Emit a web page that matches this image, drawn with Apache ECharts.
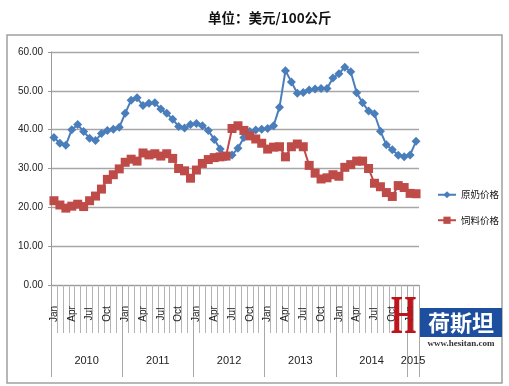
<!DOCTYPE html>
<html>
<head>
<meta charset="utf-8">
<script src="https://cdn.jsdelivr.net/npm/echarts@6/dist/echarts.min.js"></script>
<style>
html,body{margin:0;padding:0;background:#fff;}
#chart{width:509px;height:386px;}
</style>
</head>
<body>
<div id="chart"></div>
<script>
// ---- data ----
const monthNames = ['Jan','Feb','Mar','Apr','May','Jun','Jul','Aug','Sep','Oct','Nov','Dec'];
const years = ['2010','2011','2012','2013','2014','2015'];
const monthCount = 62; // Jan 2010 .. Feb 2015
const seriesNames = ['原奶价格','饲料价格'];
const milkPrice = [
  38.0, 36.5, 36.0, 40.0, 41.3, 39.5, 37.8, 37.2, 39.0, 39.8, 40.1, 40.6,
  44.2, 47.6, 48.2, 46.2, 46.8, 46.9, 45.3, 44.2, 42.7, 40.8, 40.4, 41.3,
  41.6, 41.0, 39.8, 37.5, 35.0, 33.0, 33.5, 35.2, 38.0, 39.5, 39.9, 40.1,
  40.3, 41.0, 45.8, 55.2, 52.3, 49.4, 49.6, 50.2, 50.5, 50.6, 50.6, 53.3,
  54.4, 56.1, 54.9, 49.5, 46.9, 44.8, 44.1, 39.6, 36.1, 34.8, 33.4, 33.0,
  33.5, 37.0
];
const feedPrice = [
  21.7, 20.6, 19.8, 20.3, 20.8, 20.2, 21.7, 22.9, 24.7, 27.2, 28.4, 29.9,
  31.6, 32.4, 31.9, 34.0, 33.5, 33.8, 33.2, 33.8, 32.6, 30.0, 29.4, 27.5,
  29.6, 31.3, 32.3, 32.8, 33.0, 33.2, 40.3, 41.0, 39.8, 38.4, 37.6, 36.5,
  35.0, 35.5, 35.6, 33.0, 35.6, 36.3, 35.6, 30.8, 28.8, 27.3, 27.6, 28.4,
  28.0, 30.3, 31.0, 31.9, 31.9, 30.0, 26.2, 25.3, 23.8, 22.8, 25.6, 25.1,
  23.6, 23.5
];
const yTicks = [0, 10, 20, 30, 40, 50, 60];

// ---- derived axis categories ----
const monthCats = [];
for (let i = 0; i < monthCount; i++) monthCats.push(monthNames[i % 12]);
// half-month grid for year grouping axis (boundaryGap false, 0..62 months)
const halfCats = [];
const yearLabelIdx = {};
years.forEach((y, k) => {
  const start = k * 12, end = Math.min(start + 12, monthCount);
  yearLabelIdx[(start + end)] = y;
});
for (let j = 0; j <= monthCount * 2; j++) halfCats.push(yearLabelIdx[j] || '');

const chart = echarts.init(document.getElementById('chart'));
const gridLeft = 51, gridRight = 90, gridTop = 52, gridBottom = 101;

chart.setOption({
  animation: false,
  backgroundColor: '#fff',
  title: {
    text: '单位：美元/100公斤',
    left: 203, top: 6,
    textStyle: {fontFamily: 'Noto Sans CJK SC', fontWeight: 'bold', fontSize: 13.5, color: '#111'}
  },
  legend: {
    orient: 'vertical',
    left: 432, top: 185,
    itemWidth: 18, itemHeight: 9, itemGap: 16,
    textStyle: {fontFamily: 'Noto Sans CJK SC', fontSize: 9.5, color: '#111'},
    data: seriesNames
  },
  grid: {left: gridLeft, right: gridRight, top: gridTop, bottom: gridBottom, containLabel: false},
  xAxis: [
    {
      type: 'category',
      data: monthCats,
      boundaryGap: true,
      position: 'bottom',
      axisLine: {show: true, lineStyle: {color: '#9a9a9a', width: 1}},
      axisTick: {show: true, interval: 0, length: 48, lineStyle: {color: '#b4b4b4', width: 1}},
      axisLabel: {
        interval: (i) => i % 3 === 0,
        rotate: 90,
        align: 'center',
        verticalAlign: 'middle',
        margin: 29,
        fontSize: 10,
        color: '#222',
        fontFamily: 'Liberation Sans'
      },
      splitLine: {show: false}
    },
    {
      type: 'category',
      data: halfCats,
      boundaryGap: false,
      position: 'bottom',
      axisLine: {show: false},
      axisTick: {show: true, length: 92, interval: (j) => j % 24 === 0 || j === monthCount * 2,
        lineStyle: {color: '#a8a8a8', width: 1}},
      axisLabel: {
        interval: (j) => halfCats[j] !== '',
        margin: 70,
        fontSize: 11,
        color: '#222',
        fontFamily: 'Liberation Sans'
      },
      splitLine: {show: false}
    }
  ],
  yAxis: {
    type: 'value',
    min: yTicks[0], max: yTicks[yTicks.length - 1], interval: 10,
    axisLine: {show: true, lineStyle: {color: '#9a9a9a'}},
    axisTick: {show: true, length: 3, lineStyle: {color: '#9a9a9a'}},
    axisLabel: {formatter: (v) => v.toFixed(2), fontSize: 10, color: '#222', margin: 8, fontFamily: 'Liberation Sans'},
    splitLine: {show: true, lineStyle: {color: '#a6a6a6', width: 1.3}}
  },
  series: [
    {
      name: seriesNames[0], type: 'line', xAxisIndex: 0, data: milkPrice,
      symbol: 'diamond', symbolSize: 9, showSymbol: true, showAllSymbol: true,
      lineStyle: {color: '#4a7ebb', width: 2},
      itemStyle: {color: '#4a7ebb'}
    },
    {
      name: seriesNames[1], type: 'line', xAxisIndex: 0, data: feedPrice,
      symbol: 'rect', symbolSize: 9, showSymbol: true, showAllSymbol: true,
      lineStyle: {color: '#be4b48', width: 2},
      itemStyle: {color: '#be4b48'}
    }
  ],
  graphic: [
    {type: 'rect', shape: {x: 7, y: 35, width: 495, height: 348}, style: {fill: 'none', stroke: '#a0a0a0', lineWidth: 1.5}, z: -1},
    {type: 'text', x: 391, y: 292, scaleX: 0.6, style: {text: 'H', fill: '#c0141c', font: 'bold 54px "Liberation Serif"'}, z: 10},
    {type: 'rect', shape: {x: 420, y: 308, width: 82, height: 29}, style: {fill: '#1d4f9e'}, z: 10},
    {type: 'text', x: 461, y: 322.5, style: {text: '荷斯坦', fill: '#fff', font: 'bold 22px "Noto Sans CJK SC"', textAlign: 'center', textVerticalAlign: 'middle'}, z: 11},
    {type: 'text', x: 461, y: 344, style: {text: 'www.hesitan.com', fill: '#333', font: 'bold 9px "Liberation Serif"', textAlign: 'center', textVerticalAlign: 'middle'}, z: 11}
  ]
});
</script>
</body>
</html>
